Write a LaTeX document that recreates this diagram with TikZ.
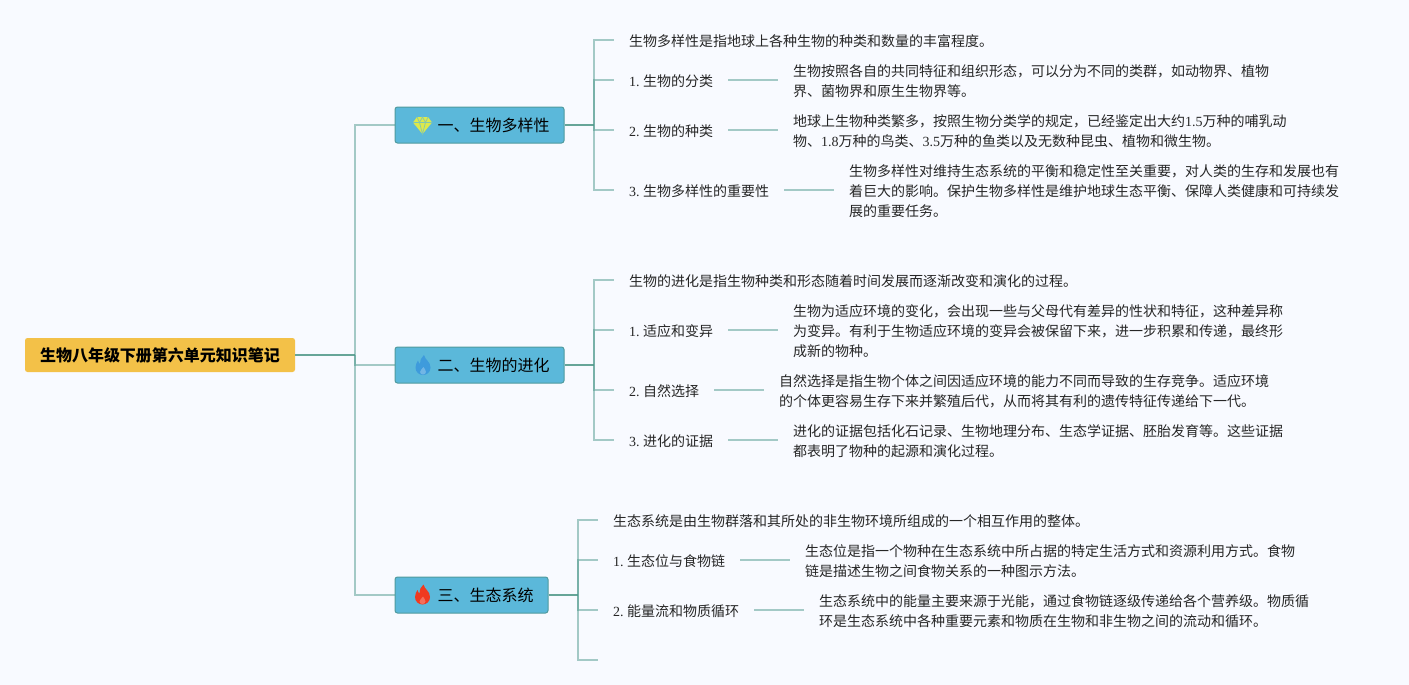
\documentclass[tikz,border=0pt]{standalone}
\usepackage{fontspec}
\setmainfont{Noto Sans CJK SC}
\newfontfamily\latfont{Liberation Serif}
\newcommand{\lat}[1]{{\latfont #1}}
\definecolor{bgc}{HTML}{F8FAFF}
\definecolor{rootc}{HTML}{F3C148}
\definecolor{branchc}{HTML}{5BB8DA}
\definecolor{branchb}{HTML}{4F9A9E}
\definecolor{edged}{HTML}{66A598}
\definecolor{edgel}{HTML}{4F9A8E}
\definecolor{txt}{HTML}{262626}
\definecolor{gemc}{HTML}{DCE94C}
\definecolor{flameb}{HTML}{3E9BDC}
\definecolor{flamer}{HTML}{F03A1F}
\tikzset{
  rootnode/.style={fill=rootc,rounded corners=2.5pt,minimum width=270pt,minimum height=34pt,inner sep=0pt,font=\fontsize{16}{20}\selectfont\bfseries,text=black},
  branchnode/.style={fill=branchc,draw=branchb,line width=1pt,rounded corners=2.5pt,minimum height=36pt,inner sep=0pt,font=\fontsize{16}{20}\selectfont,text=black},
  labelnode/.style={anchor=west,yshift=-1.3pt,inner xsep=15pt,inner ysep=0pt,font=\fontsize{14}{20}\selectfont,text=txt},
  detailnode/.style={anchor=west,xshift=50pt,inner xsep=14.5pt,inner ysep=0pt,align=left,font=\fontsize{14}{20}\selectfont,text=txt},
  thick edge/.style={draw=edged,line width=2pt},
  thin edge/.style={draw=edgel,line width=1.6pt,opacity=.5},
  leaf edge/.style={draw=edgel,line width=1.2pt,opacity=.5},
  flameicon/.pic={
    \fill[#1] (1,-10) .. controls (2,-5) and (7.5,-3.5) .. (7.5,2.5)
      .. controls (7.5,7) and (4,10) .. (0,10)
      .. controls (-4,10) and (-7.5,7) .. (-7.5,2.5)
      .. controls (-7.5,-0.5) and (-6,-3) .. (-5,-4.5)
      .. controls (-4.6,-2.5) and (-3.8,-1.5) .. (-2.8,-1)
      .. controls (-3.2,-4.5) and (-1.5,-8) .. (1,-10) -- cycle;
    \fill[#1!55!white,opacity=.6] (0.5,2) .. controls (1.5,4) and (3,5) .. (3,7)
      .. controls (3,8.5) and (1.5,9.5) .. (0,9.5)
      .. controls (-1.5,9.5) and (-3,8.5) .. (-3,7)
      .. controls (-3,5) and (-0.5,4) .. (0.5,2) -- cycle;
  },
  gemicon/.pic={
    \fill[gemc] (-5.5,-8.5) -- (5.5,-8.5) -- (9.5,-3) -- (0,8.5) -- (-9.5,-3) -- cycle;
    \draw[branchc!70!gemc,line width=.7pt] (-9.5,-3) -- (9.5,-3) (-5.5,-8.5) -- (-3,-3) -- (0,-8.5) -- (3,-3) -- (5.5,-8.5) (-3,-3) -- (0,8.5) -- (3,-3);
  },
}
\begin{document}
\begin{tikzpicture}[x=1pt,y=-1pt]
\path[use as bounding box,fill=bgc] (0,0) rectangle (1409,685);

\node[rootnode] (root) at (160,355) {\raisebox{-1pt}{生物八年级下册第六单元知识笔记}};
\node[branchnode,minimum width=169pt] (b1) at (479.5,125) {\hspace*{28pt}\raisebox{-.8pt}{一、生物多样性}};
\node[branchnode,minimum width=169pt] (b2) at (479.5,365) {\hspace*{28pt}\raisebox{-.8pt}{二、生物的进化}};
\node[branchnode,minimum width=153pt] (b3) at (471.5,595) {\hspace*{28pt}\raisebox{-.8pt}{三、生态系统}};
\pic at (422.5,125.5) {gemicon};
\pic at (423,365) {flameicon=flameb};
\pic at (422.5,594.5) {flameicon=flamer};

\coordinate (j0) at (355,355);
\coordinate (j1) at (594,125);
\coordinate (j2) at (594,365);
\coordinate (j3) at (578,595);

% branch one
\node[labelnode] (a0) at (614,40) {生物多样性是指地球上各种生物的种类和数量的丰富程度。};
\node[labelnode] (a1) at (614,80) {\lat{1.\ }生物的分类};
\node[labelnode] (a2) at (614,130) {\lat{2.\ }生物的种类};
\node[labelnode] (a3) at (614,190) {\lat{3.\ }生物多样性的重要性};
\node[detailnode] (d1) at (a1.east) {生物按照各自的共同特征和组织形态，可以分为不同的类群，如动物界、植物\\界、菌物界和原生生物界等。};
\node[detailnode] (d2) at (a2.east) {地球上生物种类繁多，按照生物分类学的规定，已经鉴定出大约\lat{1.5}万种的哺乳动\\物、\lat{1.8}万种的鸟类、\lat{3.5}万种的鱼类以及无数种昆虫、植物和微生物。};
\node[detailnode] (d3) at (a3.east) {生物多样性对维持生态系统的平衡和稳定性至关重要，对人类的生存和发展也有\\着巨大的影响。保护生物多样性是维护地球生态平衡、保障人类健康和可持续发\\展的重要任务。};

% branch two
\node[labelnode] (e0) at (614,280) {生物的进化是指生物种类和形态随着时间发展而逐渐改变和演化的过程。};
\node[labelnode] (e1) at (614,330) {\lat{1.\ }适应和变异};
\node[labelnode] (e2) at (614,390) {\lat{2.\ }自然选择};
\node[labelnode] (e3) at (614,440) {\lat{3.\ }进化的证据};
\node[detailnode] (f1) at (e1.east) {生物为适应环境的变化，会出现一些与父母代有差异的性状和特征，这种差异称\\为变异。有利于生物适应环境的变异会被保留下来，进一步积累和传递，最终形\\成新的物种。};
\node[detailnode] (f2) at (e2.east) {自然选择是指生物个体之间因适应环境的能力不同而导致的生存竞争。适应环境\\的个体更容易生存下来并繁殖后代，从而将其有利的遗传特征传递给下一代。};
\node[detailnode] (f3) at (e3.east) {进化的证据包括化石记录、生物地理分布、生态学证据、胚胎发育等。这些证据\\都表明了物种的起源和演化过程。};

% branch three
\node[labelnode] (g0) at (598,520) {生态系统是由生物群落和其所处的非生物环境所组成的一个相互作用的整体。};
\node[labelnode] (g1) at (598,560) {\lat{1.\ }生态位与食物链};
\node[labelnode] (g2) at (598,610) {\lat{2.\ }能量流和物质循环};
\coordinate (g3) at (598,660);
\node[detailnode] (h1) at (g1.east) {生态位是指一个物种在生态系统中所占据的特定生活方式和资源利用方式。食物\\链是描述生物之间食物关系的一种图示方法。};
\node[detailnode] (h2) at (g2.east) {生态系统中的能量主要来源于光能，通过食物链逐级传递给各个营养级。物质循\\环是生态系统中各种重要元素和物质在生物和非生物之间的流动和循环。};

% connectors
\draw[thick edge] (root.east) -- (j0);
\foreach \t in {b1,b2,b3} \draw[thin edge] (j0) |- (\t.west);
\draw[thick edge] (b1.east) -- (j1);
\foreach \t in {a0,a1,a2,a3} \draw[thin edge] (j1) |- ([yshift=1.3pt]\t.west);
\draw[thick edge] (b2.east) -- (j2);
\foreach \t in {e0,e1,e2,e3} \draw[thin edge] (j2) |- ([yshift=1.3pt]\t.west);
\draw[thick edge] (b3.east) -- (j3);
\foreach \t in {g0,g1,g2} \draw[thin edge] (j3) |- ([yshift=1.3pt]\t.west);
\draw[thin edge] (j3) |- (g3);
\foreach \s/\t in {a1/d1,a2/d2,a3/d3,e1/f1,e2/f2,e3/f3,g1/h1,g2/h2}
  \draw[leaf edge] ([yshift=1.3pt]\s.east) -- ([yshift=1.3pt]\t.west);
\end{tikzpicture}
\end{document}
